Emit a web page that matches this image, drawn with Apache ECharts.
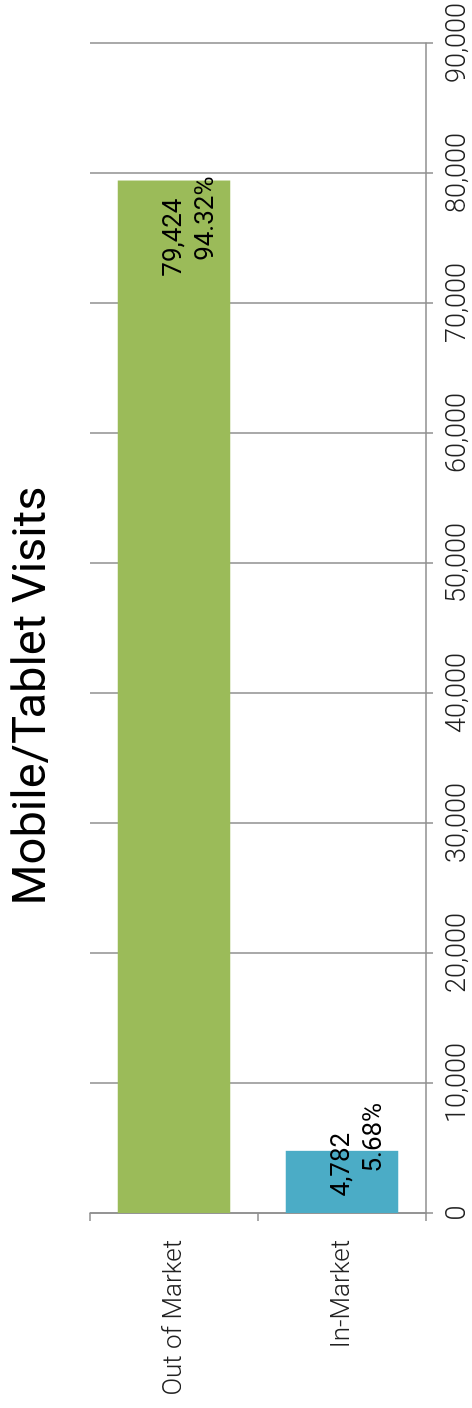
<!DOCTYPE html>
<html>
<head>
<meta charset="utf-8">
<title>Mobile/Tablet Visits</title>
<script src="https://cdn.jsdelivr.net/npm/echarts@6/dist/echarts.min.js"></script>
<style>
  html, body { margin: 0; padding: 0; background: #fff; overflow: hidden; }
  body { width: 472px; height: 1408px; position: relative; }
  /* the chart is drawn lying down (horizontal bars) and then turned -90deg */
  #chart {
    position: absolute;
    left: 0;
    top: 1408px;
    width: 1408px;
    height: 472px;
    transform-origin: 0 0;
    transform: rotate(-90deg);
  }
</style>
</head>
<body>
<div id="chart"></div>
<script>
  // data
  const titleText = 'Mobile/Tablet Visits'
  const categories = ['Out of Market', 'In-Market']
  const visits = [79424, 4782]
  const shares = ['94.32%', '5.68%']
  const axisMin = 0
  const axisMax = 90000
  const axisStep = 10000

  // looks
  const barColors = ['#9BBB59', '#4BACC6']
  const lineColor = '#8e8e8e'
  const labelOffsets = [[4, 16], [48, 16]]   // where each value label sits against its bar end
  const firstLineShift = [22, 30]            // the value line ends a bit before the percent line

  let myChart = echarts.init(document.getElementById('chart'), null, { renderer: 'canvas' })

  function labelRich(i) {
    const base = { fontFamily: 'Roboto', fontWeight: 400, fontSize: 26, lineHeight: 32, color: '#000' }
    return {
      a: Object.assign({}, base, { padding: [0, firstLineShift[i], 0, 0] }),
      b: Object.assign({}, base)
    }
  }

  myChart.setOption({
    animation: false,
    backgroundColor: '#fff',
    graphic: [{
      type: 'text',
      x: 712,
      y: 33,
      style: {
        text: titleText,
        fontFamily: 'Roboto',
        fontWeight: 400,
        fontSize: 47,
        fill: '#000',
        textAlign: 'center',
        textVerticalAlign: 'middle'
      }
    }],
    grid: {
      left: 195,
      right: 43,
      top: 90,
      bottom: 45,
      containLabel: false
    },
    xAxis: {
      type: 'value',
      position: 'bottom',
      min: axisMin,
      max: axisMax,
      interval: axisStep,
      axisLine: { show: true, lineStyle: { color: lineColor, width: 1.5 } },
      axisTick: { show: true, length: 7, lineStyle: { color: lineColor, width: 1.5 } },
      splitLine: { show: true, lineStyle: { color: lineColor, width: 1.5 } },
      axisLabel: {
        margin: 19,
        color: '#222',
        fontFamily: 'Roboto',
        fontWeight: 300,
        fontSize: 27,
        formatter: v => v.toLocaleString('en-US')
      }
    },
    yAxis: {
      type: 'category',
      inverse: true,
      data: categories,
      axisLine: { show: true, lineStyle: { color: lineColor, width: 1.5 } },
      axisTick: { show: true, length: 8, lineStyle: { color: lineColor, width: 1.5 } },
      splitLine: { show: false },
      axisLabel: {
        margin: 27,
        color: '#222',
        fontFamily: 'Roboto',
        fontWeight: 300,
        fontSize: 26
      }
    },
    series: [{
      type: 'bar',
      barCategoryGap: '33%',
      data: visits.map((v, i) => ({
        value: v,
        itemStyle: { color: barColors[i] },
        label: {
          show: true,
          position: 'insideRight',
          distance: 0,
          offset: labelOffsets[i],
          align: 'right',
          formatter: () => '{a|' + visits[i].toLocaleString('en-US') + '}\n{b|' + shares[i] + '}',
          rich: labelRich(i)
        }
      }))
    }]
  })
</script>
</body>
</html>
